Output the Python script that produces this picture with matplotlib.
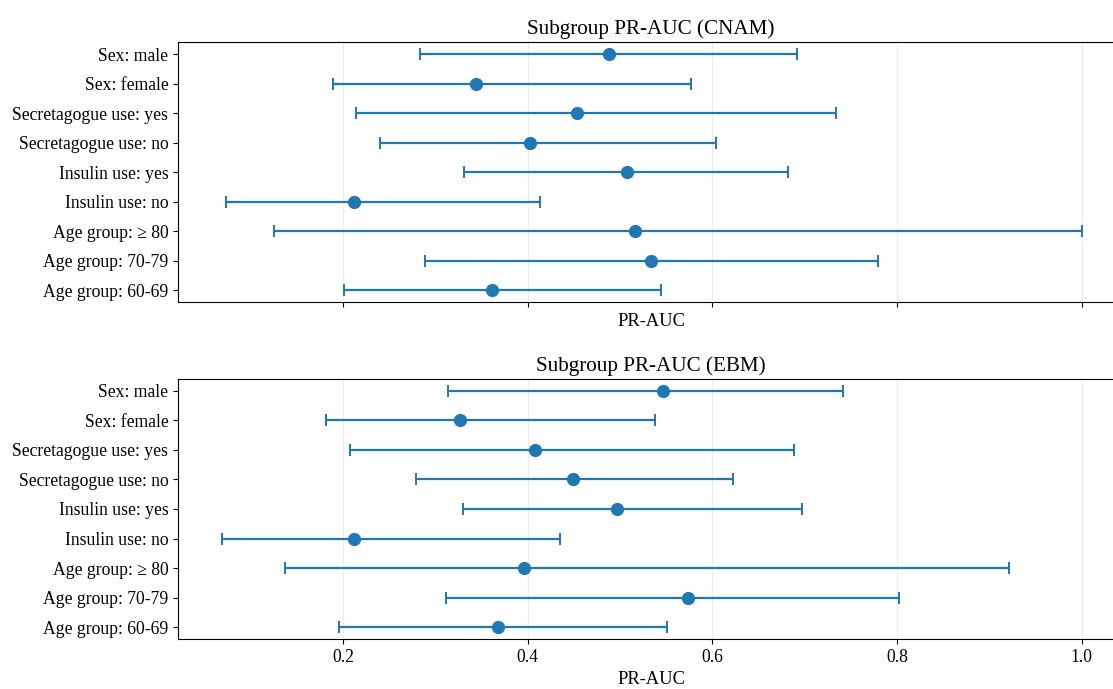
import matplotlib
matplotlib.use("Agg")
import matplotlib.pyplot as plt

plt.rcParams["font.family"] = ["Liberation Serif", "DejaVu Serif"]

# subgroups, bottom row first
labels = ["Age group: 60-69", "Age group: 70-79", "Age group: \u2265 80",
          "Insulin use: no", "Insulin use: yes",
          "Secretagogue use: no", "Secretagogue use: yes",
          "Sex: female", "Sex: male"]

cnam_auc = [0.361, 0.534, 0.516, 0.212, 0.508, 0.403, 0.453, 0.344, 0.488]
cnam_lo = [0.201, 0.289, 0.125, 0.073, 0.331, 0.240, 0.214, 0.189, 0.283]
cnam_hi = [0.544, 0.779, 1.000, 0.413, 0.682, 0.604, 0.734, 0.577, 0.692]

ebm_auc = [0.368, 0.574, 0.396, 0.212, 0.497, 0.449, 0.408, 0.327, 0.546]
ebm_lo = [0.196, 0.312, 0.137, 0.069, 0.330, 0.279, 0.207, 0.181, 0.314]
ebm_hi = [0.551, 0.802, 0.921, 0.435, 0.697, 0.622, 0.688, 0.538, 0.741]

xticks = [0.2, 0.4, 0.6, 0.8, 1.0]

fig = plt.figure(figsize=(11.13, 6.89), dpi=100)
ax_top = fig.add_axes([0.160, 0.5613, 0.850, 0.3774])
ax_bot = fig.add_axes([0.160, 0.0726, 0.850, 0.3774], sharex=ax_top)

panels = [(ax_top, cnam_auc, cnam_lo, cnam_hi, "Subgroup PR-AUC (CNAM)"),
          (ax_bot, ebm_auc, ebm_lo, ebm_hi, "Subgroup PR-AUC (EBM)")]

for ax, auc, lo, hi, title in panels:
    ypos = list(range(len(labels)))
    err = [[a - l for a, l in zip(auc, lo)], [h - a for a, h in zip(auc, hi)]]
    ax.errorbar(auc, ypos, xerr=err, fmt="o", color="#1f77b4",
                ecolor="#1f77b4", elinewidth=1.6, capsize=4, capthick=1.4,
                markersize=8.5)
    ax.set_yticks(ypos)
    ax.set_yticklabels(labels, fontsize=12.7)
    ax.set_xticks(xticks)
    ax.tick_params(axis="x", labelsize=12.7)
    ax.grid(axis="x", color="#ebebeb", linewidth=0.8)
    ax.set_axisbelow(True)
    ax.set_xlabel("PR-AUC", fontsize=13.3, labelpad=4)
    ax.set_title(title, fontsize=15.2, pad=6)

ax_top.tick_params(axis="x", labelbottom=False)
ax_top.set_xlim(0.0213, 1.046)

fig.savefig("out.png", dpi=100)
plt.close(fig)
